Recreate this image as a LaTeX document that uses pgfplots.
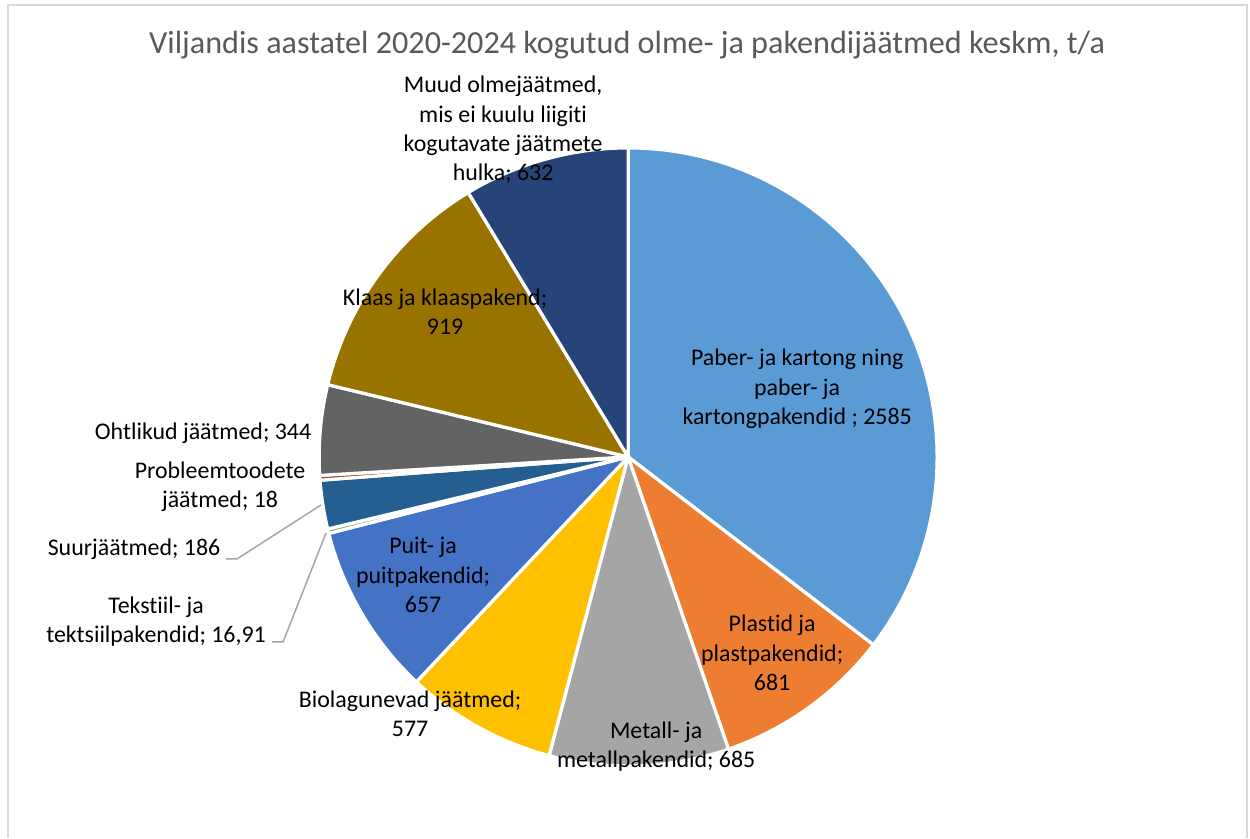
\documentclass[border=0pt]{standalone}
\usepackage{pgfplots}
\usepackage{pgfplotstable}
\pgfplotsset{compat=1.18}
\usepackage{fontspec}
\setmainfont{Carlito}[Ligatures=NoCommon]
\definecolor{c0}{HTML}{5B9BD5}
\definecolor{c1}{HTML}{ED7D31}
\definecolor{c2}{HTML}{A5A5A5}
\definecolor{c3}{HTML}{FFC000}
\definecolor{c4}{HTML}{4472C4}
\definecolor{c5}{HTML}{70AD47}
\definecolor{c6}{HTML}{255E91}
\definecolor{c7}{HTML}{9E480E}
\definecolor{c8}{HTML}{636363}
\definecolor{c9}{HTML}{997300}
\definecolor{c10}{HTML}{264478}
\definecolor{titlegray}{HTML}{595959}
\definecolor{framegray}{HTML}{D9D9D9}
\definecolor{leadgray}{HTML}{A6A6A6}
% Viljandis 2020-2024, t/a (clockwise from 12 o'clock)
\pgfplotstableread{
idx v
0 2585
1 681
2 685
3 577
4 657
5 16.91
6 186
7 18
8 344
9 919
10 632
}\pietable
\pgfplotstablecreatecol[expr accum={\pgfmathaccuma + \thisrow{v}}{0}]{cum}\pietable
\pgfplotstablegetelem{10}{cum}\of\pietable
\let\total\pgfplotsretval
\begin{document}
\begin{tikzpicture}
\path (0,0) rectangle (25cm,16.76cm);
\begin{axis}[
  at={(0,0)}, anchor=origin,
  x=0.02cm, y=0.02cm,
  xmin=0, xmax=1250, ymin=0, ymax=838,
  hide axis, clip=false,
]
% frame
\draw[framegray, line width=0.04cm] (axis cs:8,0) -- (axis cs:8,833) -- (axis cs:1247,833) -- (axis cs:1247,0);
\pgfplotsinvokeforeach{0,...,10}{
  \pgfplotstablegetelem{#1}{v}\of\pietable
  \let\vv\pgfplotsretval
  \pgfplotstablegetelem{#1}{cum}\of\pietable
  \let\cc\pgfplotsretval
  \pgfmathsetmacro\fone{(\cc-\vv)/\total}
  \pgfmathsetmacro\ftwo{\cc/\total}
  \pgfmathsetmacro\aone{90-360*\fone}
  \pgfmathsetmacro\atwo{90-360*\ftwo}
  \edef\temp{\noexpand\filldraw[fill=c#1, draw=white, line width=0.065cm, line join=round]
    (axis cs:628,381) -- ++(\aone:6.18cm) arc[start angle=\aone, end angle=\atwo, radius=6.18cm] -- cycle;}
  \temp
}
% leader lines
\draw[leadgray, line width=0.03cm] (axis cs:226,279) -- (axis cs:237,279) -- (axis cs:321,333);
\draw[leadgray, line width=0.03cm] (axis cs:272,196) -- (axis cs:283,196) -- (axis cs:326,305);
% title
\node[text=titlegray, font=\fontsize{18.3}{22}\selectfont] at (axis cs:627,793) {Viljandis aastatel 2020-2024 kogutud olme- ja pakendijäätmed keskm, t/a};
% labels
\tikzset{lab/.style={align=center, font=\fontsize{13.6}{16.6}\selectfont, inner sep=0pt}}
\node[lab] at (axis cs:797,449) {Paber- ja kartong ning\\paber- ja\\kartongpakendid ; 2585};
\node[lab] at (axis cs:772,185) {Plastid ja\\plastpakendid;\\681};
\node[lab] at (axis cs:656,91) {Metall- ja\\metallpakendid; 685};
\node[lab] at (axis cs:410,124) {Biolagunevad jäätmed;\\577};
\node[lab] at (axis cs:423,263) {Puit- ja\\puitpakendid;\\657};
\node[lab] at (axis cs:156,216) {Tekstiil- ja\\tektsiilpakendid; 16,91};
\node[lab] at (axis cs:134,289) {Suurjäätmed; 186};
\node[lab] at (axis cs:220,351) {Probleemtoodete\\jäätmed; 18};
\node[lab] at (axis cs:203,405) {Ohtlikud jäätmed; 344};
\node[lab] at (axis cs:445,526) {Klaas ja klaaspakend;\\919};
\node[lab] at (axis cs:503,708) {Muud olmejäätmed,\\mis ei kuulu liigiti\\kogutavate jäätmete\\hulka; 632};
\end{axis}
\end{tikzpicture}
\end{document}
